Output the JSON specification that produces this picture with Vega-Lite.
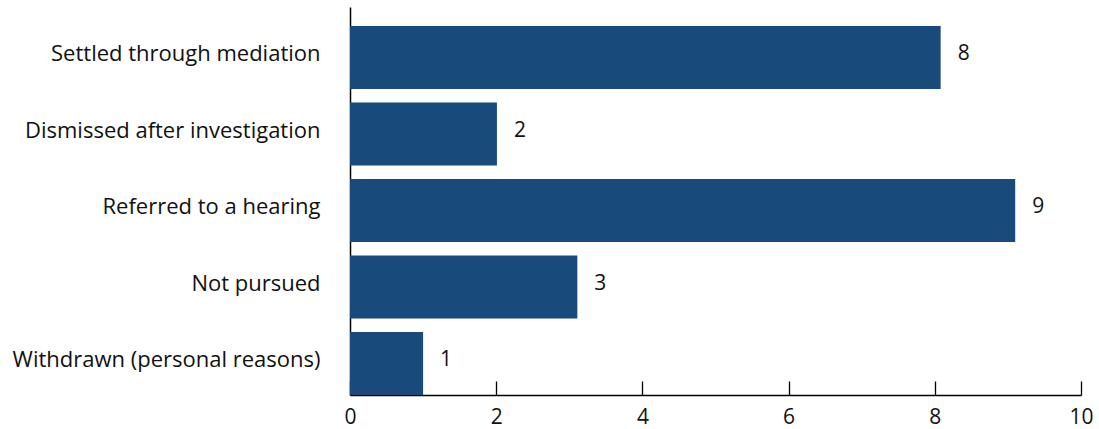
{
  "$schema": "https://vega.github.io/schema/vega-lite/v6.json",
  "autosize": {"type": "none"},
  "padding": {"left": 350, "top": 7, "right": 18, "bottom": 34},
  "width": 731,
  "height": 388,
  "background": "white",
  "config": {
    "view": {"stroke": null},
    "font": "Open Sans",
    "axis": {"grid": false, "labelColor": "#111111", "domainColor": "#000000", "tickColor": "#000000"}
  },
  "data": {
    "values": [
      {"outcome": "Settled through mediation", "count": 8.08, "label": "8"},
      {"outcome": "Dismissed after investigation", "count": 2.01, "label": "2"},
      {"outcome": "Referred to a hearing", "count": 9.1, "label": "9"},
      {"outcome": "Not pursued", "count": 3.11, "label": "3"},
      {"outcome": "Withdrawn (personal reasons)", "count": 1.0, "label": "1"}
    ]
  },
  "encoding": {
    "y": {
      "field": "outcome",
      "type": "nominal",
      "sort": null,
      "title": null,
      "scale": {"paddingInner": 0.176, "paddingOuter": 0.124, "align": 1},
      "axis": {"ticks": false, "labelFontSize": 22, "labelPadding": 30, "labelLimit": 500, "labelOffset": -3, "domainWidth": 1.5}
    },
    "x": {
      "field": "count",
      "type": "quantitative",
      "title": null,
      "scale": {"domain": [0, 10], "nice": false},
      "axis": {"values": [0, 2, 4, 6, 8, 10], "tickSize": -14, "tickWidth": 1.3, "labelFontSize": 21, "labelPadding": 25, "domainWidth": 1.5, "labelFlush": false}
    }
  },
  "layer": [
    {"mark": {"type": "bar", "color": "#194A7C"}},
    {
      "mark": {"type": "text", "align": "left", "dx": 17, "dy": -3, "fontSize": 21, "color": "#111111", "baseline": "middle"},
      "encoding": {"text": {"field": "label"}}
    }
  ]
}
